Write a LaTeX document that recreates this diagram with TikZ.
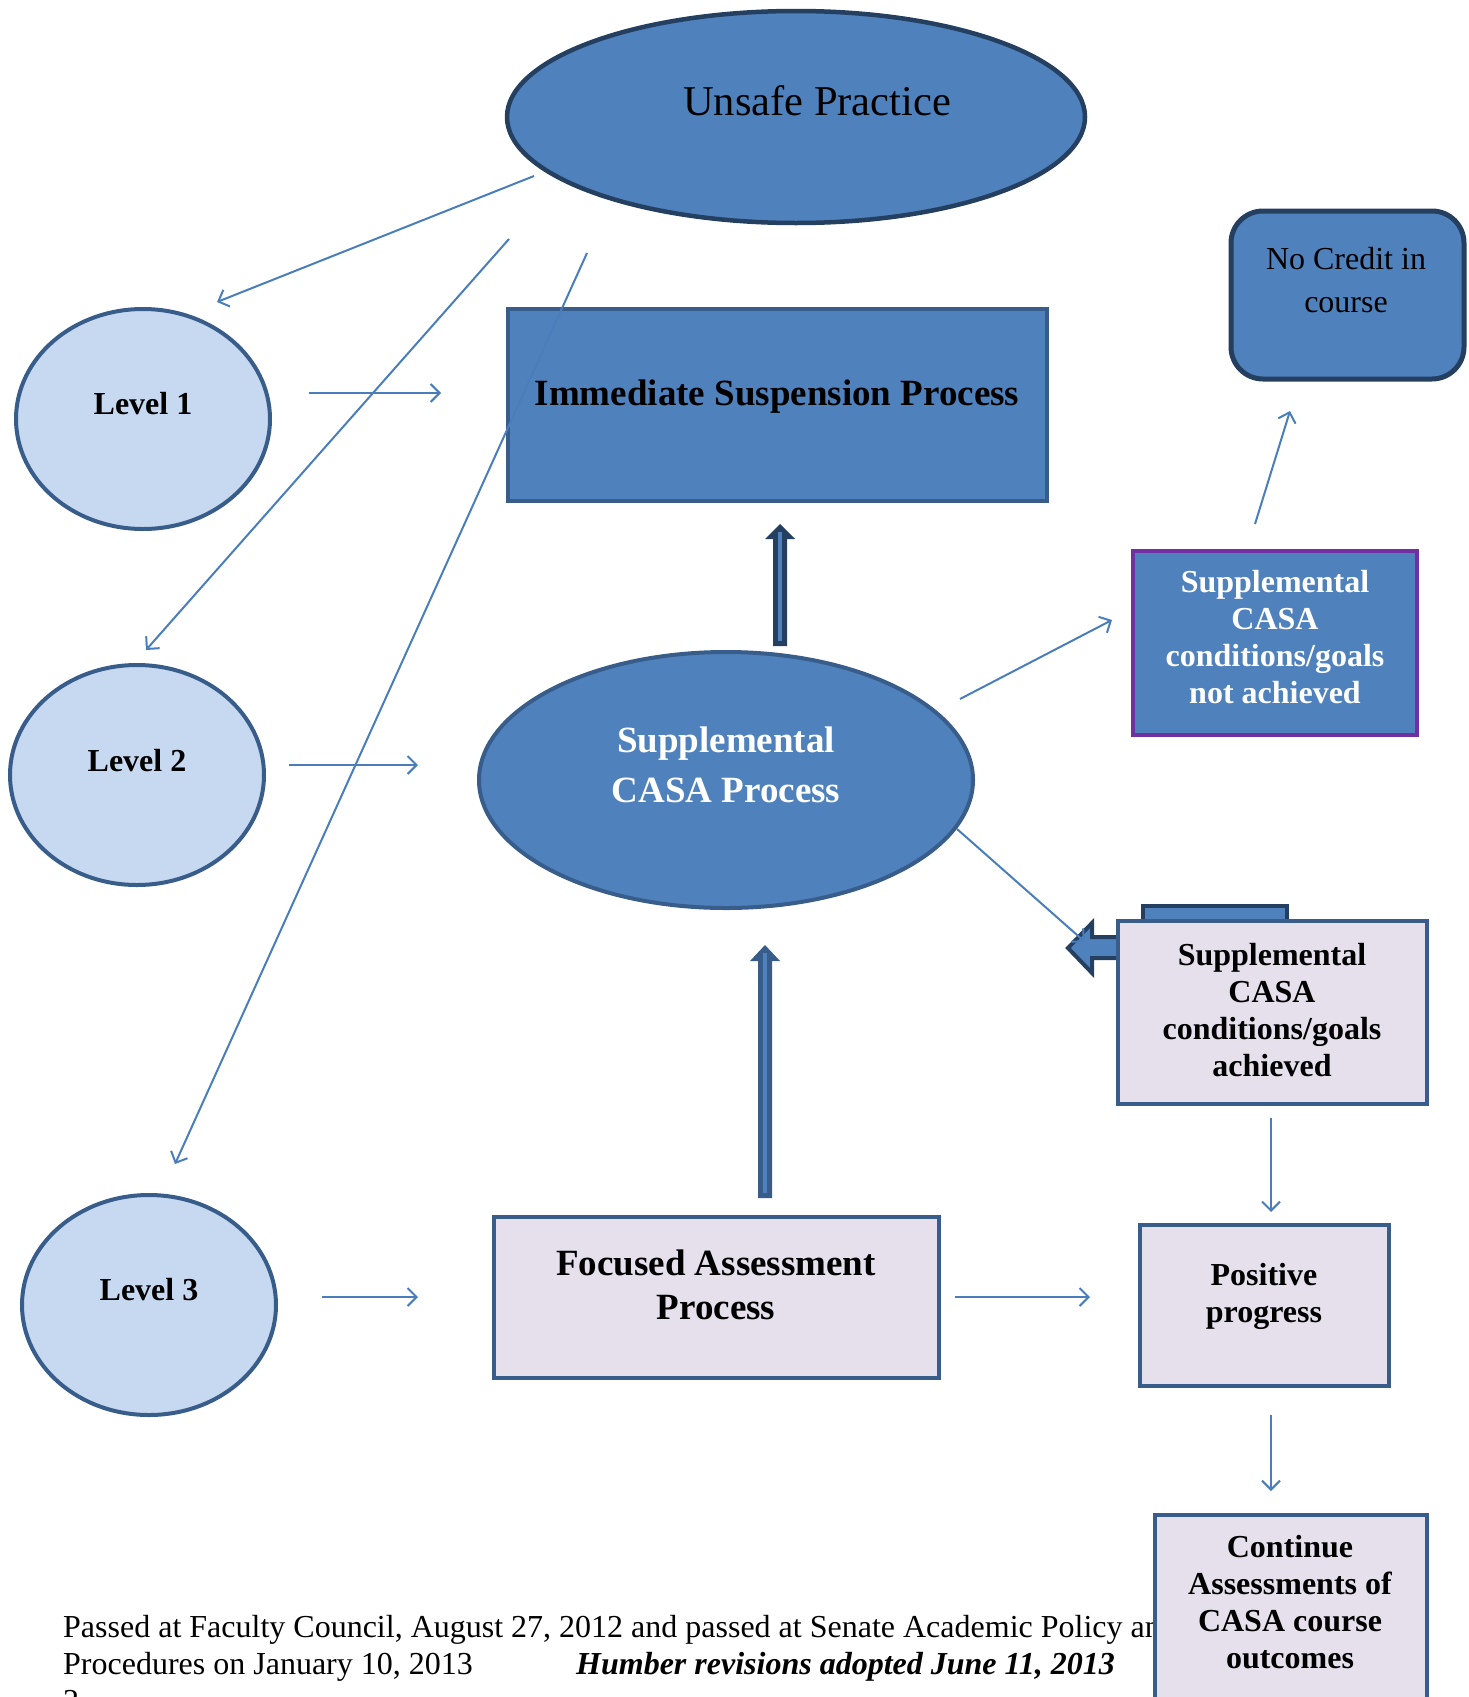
\documentclass[tikz,border=0pt]{standalone}
\usepackage{fontspec}
\setmainfont{Liberation Serif}
\usetikzlibrary{arrows.meta,shapes.geometric,calc}
\definecolor{mainblue}{HTML}{4F81BD}
\definecolor{edgeblue}{HTML}{385D8A}
\definecolor{darkblue}{HTML}{243F60}
\definecolor{paleblue}{HTML}{C6D9F1}
\definecolor{lavender}{HTML}{E5E0EC}
\definecolor{linkblue}{HTML}{4A7EBB}
\definecolor{borderpurple}{HTML}{7030A0}
\tikzset{
  ell/.style={ellipse, inner sep=0pt, line width=4pt},
  boxshape/.style={rectangle, inner sep=0pt, line width=4pt},
  levelell/.style={ell, fill=paleblue, draw=edgeblue, minimum width=254pt, minimum height=220pt},
  bigtxt/.style={inner sep=0pt, font=\fontsize{42.5}{50}\selectfont},
  boldbig/.style={inner sep=0pt, align=center, font=\fontsize{37}{44}\selectfont\bfseries},
  boldsmall/.style={inner sep=0pt, align=center, font=\fontsize{32}{37}\selectfont\bfseries},
  plainsmall/.style={inner sep=0pt, align=center, font=\fontsize{32}{43}\selectfont},
  notetxt/.style={inner sep=0pt, anchor=base west, font=\fontsize{32}{37}\selectfont},
  link/.style={draw=linkblue, line width=2pt, -{Straight Barb[length=9pt,width=18pt]}},
}
\begin{document}
\begin{tikzpicture}[x=1pt,y=-1pt]
\useasboundingbox (0,0) rectangle (1468,1697);

% bottom note (behind the last box)
\node[notetxt] (note1) at (63,1637) {Passed at Faculty Council, August 27, 2012 and passed at Senate Academic Policy and};
\node[notetxt] (note2) at (63,1674) {Procedures on January 10, 2013};
\node[notetxt, font=\fontsize{32}{37}\selectfont\bfseries\itshape] (note3) at (576,1674) {Humber revisions adopted June 11, 2013};
\node[notetxt] (pagenum) at (63,1711) {2};

% main shapes
\node[ell, fill=mainblue, draw=darkblue, line width=4.5pt, minimum width=578pt, minimum height=212pt] (unsafe) at (796,117) {};
\node[bigtxt] (unsafe-t) at (817,101) {Unsafe Practice};

\node[levelell] (lv1) at (143,419) {};
\node[boldsmall] (lv1-t) at (143,404) {Level 1};
\node[levelell] (lv2) at (137,775) {};
\node[boldsmall] (lv2-t) at (137,761) {Level 2};
\node[levelell] (lv3) at (149,1305) {};
\node[boldsmall] (lv3-t) at (149,1290) {Level 3};

\node[boxshape, fill=mainblue, draw=edgeblue, minimum width=539pt, minimum height=192pt] (isp) at (777.5,405) {};
\node[boldbig] (isp-t) at (777,397) {Immediate Suspension Process};

\node[ell, fill=mainblue, draw=edgeblue, minimum width=494pt, minimum height=256pt] (scp) at (726,780) {};
\node[boldbig, text=white, font=\fontsize{37}{50}\selectfont\bfseries] (scp-t) at (726,765) {Supplemental\\CASA Process};

\node[boxshape, fill=lavender, draw=edgeblue, minimum width=445pt, minimum height=161pt] (fap) at (716.5,1297.5) {};
\node[boldbig] (fap-t) at (716,1285) {Focused Assessment\\Process};

\node[boxshape, rounded corners=32pt, fill=mainblue, draw=darkblue, line width=5pt, minimum width=233pt, minimum height=168pt] (ncr) at (1347.5,295) {};
\node[plainsmall] (ncr-t) at (1346,280) {No Credit in\\course};

\node[boxshape, fill=mainblue, draw=borderpurple, minimum width=284pt, minimum height=184pt] (sna) at (1275,643) {};
\node[boldsmall, text=white] (sna-t) at (1275,637) {Supplemental\\CASA\\conditions/goals\\not achieved};

% tab and block arrow behind the "achieved" box
\draw[fill=mainblue, draw=darkblue, line width=4pt] (1143,906) rectangle (1287,940);
\coordinate (ba) at (1125,937);
\draw[fill=mainblue, draw=darkblue, line width=4pt, line join=miter]
  (ba) -- ++(-33,0) -- ++(0,-14) -- ++(-24,25) -- ++(24,25) -- ++(0,-15) -- ++(33,0) -- cycle;

\node[boxshape, fill=lavender, draw=edgeblue, minimum width=309pt, minimum height=183pt] (sac) at (1272.5,1012.5) {};
\node[boldsmall] (sac-t) at (1272,1010) {Supplemental\\CASA\\conditions/goals\\achieved};

\node[boxshape, fill=lavender, draw=edgeblue, minimum width=249pt, minimum height=161pt] (pos) at (1264.5,1305.5) {};
\node[boldsmall] (pos-t) at (1264,1296) {Positive\\progress};

\node[boxshape, fill=lavender, draw=edgeblue, minimum width=272pt, minimum height=230pt] (cont) at (1291,1630) {};
\node[boldsmall] (cont-t) at (1290,1602) {Continue\\Assessments of\\CASA course\\outcomes};

% thick block arrows
\coordinate (sa-b) at (780,646);
\coordinate (sa-t) at (780,524);
\fill[darkblue] (sa-b) ++(-7,0) -- ++(0,-107) -- ++(-8,0) -- ++(15,-15) -- ++(15,15) -- ++(-8,0) -- ++(0,107) -- cycle;
\draw[mainblue, line width=4pt] ($(sa-b)+(0,-5)$) -- ($(sa-t)+(0,8)$);

\coordinate (fa-b) at (765,1198);
\coordinate (fa-t) at (765,945);
\fill[edgeblue] (fa-b) ++(-7,0) -- ++(0,-237) -- ++(-8,0) -- ++(15,-16) -- ++(15,16) -- ++(-8,0) -- ++(0,237) -- cycle;
\draw[mainblue, line width=4pt] ($(fa-b)+(0,-5)$) -- ($(fa-t)+(0,8)$);

% thin connectors
\coordinate (c1s) at (534,176);  \coordinate (c1e) at (217,302);
\coordinate (c2s) at (509,239);  \coordinate (c2e) at (146,650);
\coordinate (c3s) at (587,253);  \coordinate (c3e) at (175,1164);
\coordinate (c4s) at (309,393);  \coordinate (c4e) at (441,393);
\coordinate (c5s) at (289,765);  \coordinate (c5e) at (418,765);
\coordinate (c6s) at (322,1297); \coordinate (c6e) at (418,1297);
\coordinate (c7s) at (955,1297); \coordinate (c7e) at (1090,1297);
\coordinate (c8s) at (960,699);  \coordinate (c8e) at (1112,620);
\coordinate (c9s) at (1255,524); \coordinate (c9e) at (1290,411);
\coordinate (c10s) at (957,829); \coordinate (c10e) at (1085,942);
\coordinate (c11s) at (1271,1118); \coordinate (c11e) at (1271,1212);
\coordinate (c12s) at (1271,1415); \coordinate (c12e) at (1271,1491);

\draw[link] (c1s) -- (c1e);
\draw[link] (c2s) -- (c2e);
\draw[link] (c3s) -- (c3e);
\draw[link] (c4s) -- (c4e);
\draw[link] (c5s) -- (c5e);
\draw[link] (c6s) -- (c6e);
\draw[link] (c7s) -- (c7e);
\draw[link] (c8s) -- (c8e);
\draw[link] (c9s) -- (c9e);
\draw[link] (c10s) -- (c10e);
\draw[link] (c11s) -- (c11e);
\draw[link] (c12s) -- (c12e);
\end{tikzpicture}
\end{document}
